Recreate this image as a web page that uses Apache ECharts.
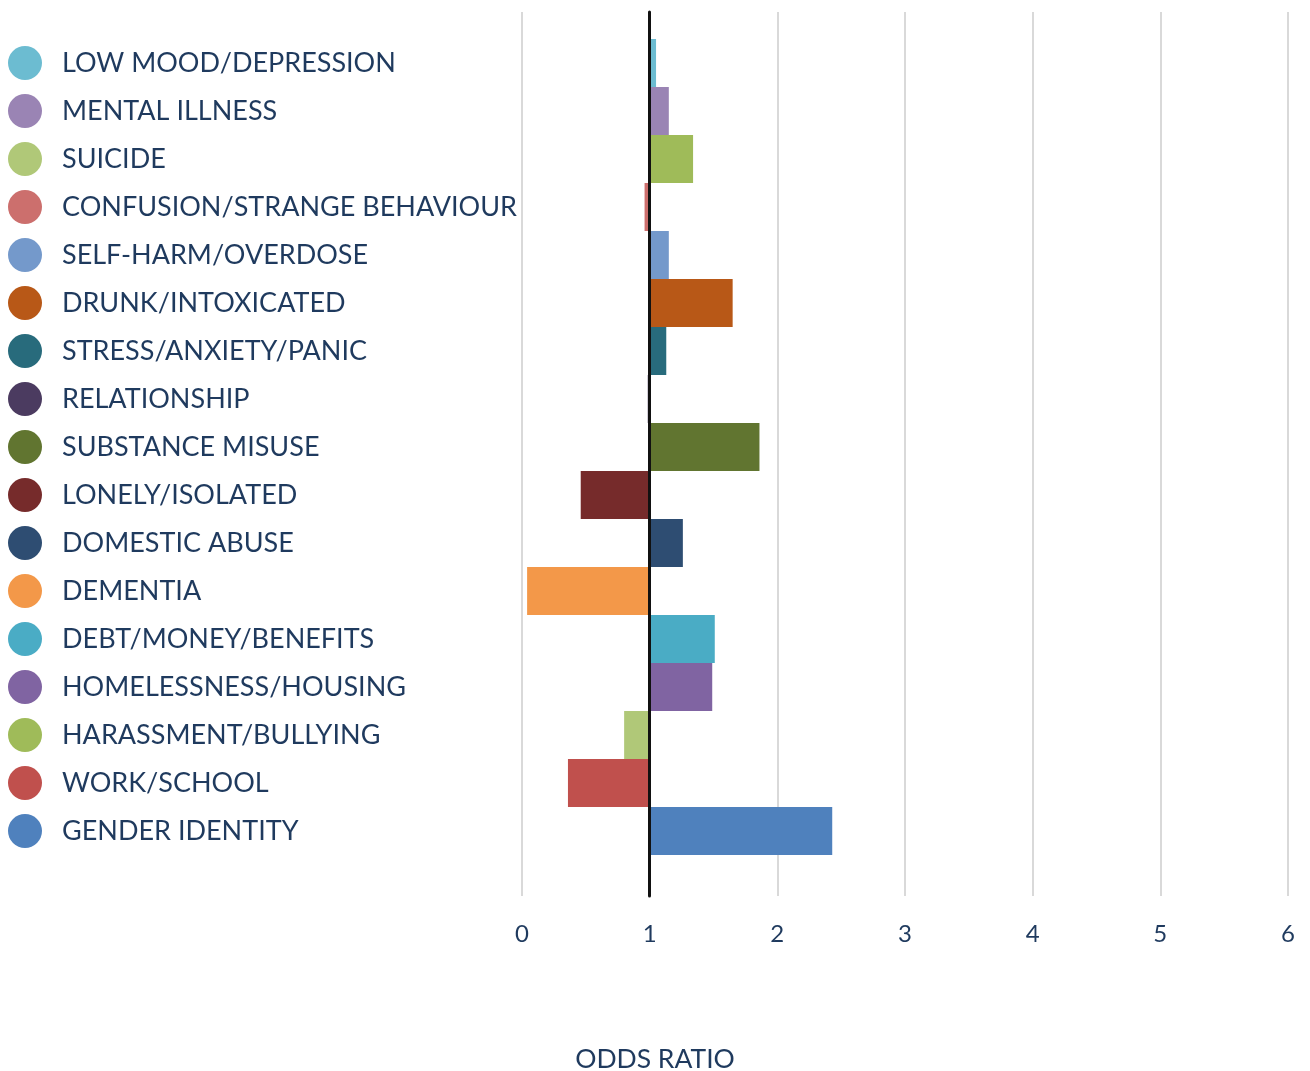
<!DOCTYPE html>
<html>
<head>
<meta charset="utf-8">
<script src="https://cdn.jsdelivr.net/npm/echarts@6/dist/echarts.min.js"></script>
<style>html,body{margin:0;padding:0;background:#fff;}#c{width:1310px;height:1071px;}</style>
</head>
<body>
<div id="c"></div>
<script>
const categories = ['LOW MOOD/DEPRESSION','MENTAL ILLNESS','SUICIDE','CONFUSION/STRANGE BEHAVIOUR','SELF-HARM/OVERDOSE','DRUNK/INTOXICATED','STRESS/ANXIETY/PANIC','RELATIONSHIP','SUBSTANCE MISUSE','LONELY/ISOLATED','DOMESTIC ABUSE','DEMENTIA','DEBT/MONEY/BENEFITS','HOMELESSNESS/HOUSING','HARASSMENT/BULLYING','WORK/SCHOOL','GENDER IDENTITY'];
const oddsRatio = [1.05,1.15,1.34,0.96,1.15,1.65,1.13,0.985,1.86,0.46,1.26,0.04,1.51,1.49,0.80,0.36,2.43];
const barColors = ['#6cbcd1','#9a84b4','#9fbb59','#cc6f6d','#7499cb','#b85817','#286b7c','#4b3b60','#617530','#762b2b','#2e4d72','#f39849','#4aacc5','#8064a2','#b0c878','#c0504d','#4f81bd'];
const legendColors = ['#6cbcd1','#9a84b4','#b0c878','#cc6f6d','#7499cb','#b85817','#286b7c','#4b3b60','#617530','#762b2b','#2e4d72','#f39849','#4aacc5','#8064a2','#9fbb59','#c0504d','#4f81bd'];
const tickValues = [0,1,2,3,4,5,6];
const baseline = 1;

const textColor = '#1f3a5e';
const fontFamily = 'Lato';

const series = categories.map((name, i) => ({
  name: name,
  type: 'bar',
  xAxisIndex: 1,
  yAxisIndex: 1,
  stack: 'all',
  barCategoryGap: '0%',
  itemStyle: { color: barColors[i] },
  data: categories.map((c, j) => j === i ? +(oddsRatio[i] - baseline).toFixed(4) : '-')
}));

const chart = echarts.init(document.getElementById('c'));
chart.setOption({
  animation: false,
  backgroundColor: '#fff',
  textStyle: { fontFamily: fontFamily },
  title: {
    text: 'ODDS RATIO',
    left: 'center',
    top: 1041,
    textStyle: { color: textColor, fontSize: 26.5, fontWeight: 'normal', fontFamily: fontFamily }
  },
  legend: {
    orient: 'vertical',
    left: 8,
    top: 46,
    padding: 0,
    icon: 'circle',
    itemWidth: 34,
    itemHeight: 34,
    itemGap: 14,
    selectedMode: false,
    textStyle: { color: textColor, fontSize: 27, fontFamily: fontFamily, lineHeight: 34, padding: [0, 0, 0, 15] },
    data: categories.map((n, i) => ({ name: n, itemStyle: { color: legendColors[i] } }))
  },
  grid: [
    { left: 522, right: 22, top: 12, height: 884 },
    { left: 522, right: 22, top: 39, height: 816 }
  ],
  xAxis: [
    {
      gridIndex: 0, type: 'value',
      min: tickValues[0] - baseline, max: tickValues[tickValues.length - 1] - baseline, interval: 1,
      axisLine: { show: false }, axisTick: { show: false },
      splitLine: { show: true, lineStyle: { color: '#d9d9d9', width: 2 } },
      axisLabel: { color: textColor, fontSize: 24, margin: 26, fontFamily: fontFamily, formatter: v => String(v + baseline) }
    },
    {
      gridIndex: 1, type: 'value',
      min: tickValues[0] - baseline, max: tickValues[tickValues.length - 1] - baseline, interval: 1,
      show: false
    }
  ],
  yAxis: [
    {
      gridIndex: 0, type: 'category', data: [''],
      z: 10,
      axisLine: { show: true, onZero: true, lineStyle: { color: '#111', width: 3 } },
      axisTick: { show: false }, axisLabel: { show: false }
    },
    {
      gridIndex: 1, type: 'category', data: categories, inverse: true,
      show: false
    }
  ],
  series: series
});
</script>
</body>
</html>
